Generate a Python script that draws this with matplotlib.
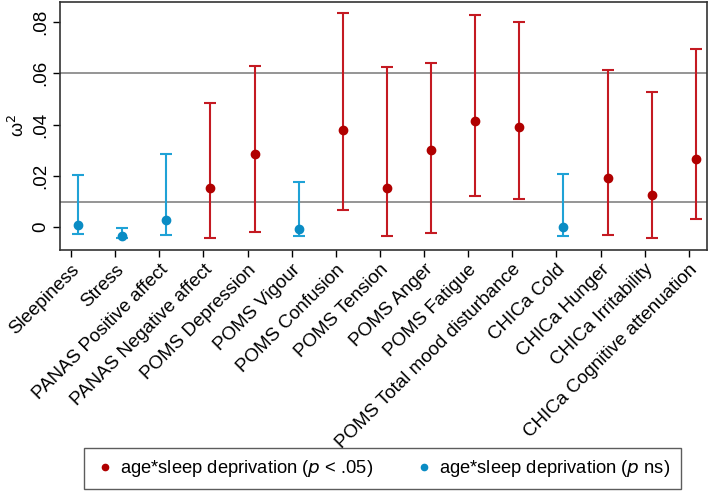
import matplotlib
matplotlib.use("Agg")
from matplotlib import pyplot as plt
from matplotlib.lines import Line2D
import numpy as np

# values (omega squared with CI)
labels = ["Sleepiness", "Stress", "PANAS Positive affect", "PANAS Negative affect",
          "POMS Depression", "POMS Vigour", "POMS Confusion", "POMS Tension",
          "POMS Anger", "POMS Fatigue", "POMS Total mood disturbance", "CHICa Cold",
          "CHICa Hunger", "CHICa Irritability", "CHICa Cognitive attenuation"]
omega = [0.0007, -0.0036, 0.0027, 0.0153, 0.0284, -0.0008, 0.0380, 0.0151,
         0.0300, 0.0412, 0.0389, 0.0000, 0.0190, 0.0126, 0.0267]
lower = [-0.0026, -0.0044, -0.0030, -0.0042, -0.0020, -0.0033, 0.0068, -0.0033,
         -0.0023, 0.0122, 0.0108, -0.0033, -0.0030, -0.0041, 0.0033]
upper = [0.0202, -0.0005, 0.0284, 0.0484, 0.0629, 0.0176, 0.0836, 0.0625,
         0.0640, 0.0827, 0.0799, 0.0207, 0.0611, 0.0527, 0.0696]
significant = [False, False, False, True, True, False, True, True,
               True, True, True, False, True, True, True]
ref_lines = [0.01, 0.06]

red_bar, red_pt = "#c41a22", "#b00000"
blue_bar, blue_pt = "#1fa2d6", "#0a8cc4"

plt.rcParams['font.family'] = ['Liberation Sans', 'DejaVu Sans']

fig = plt.figure(figsize=(7.09, 4.96), dpi=100)
ax = fig.add_axes([0.0846, 0.496, 0.9124, 0.5])

x = np.arange(1, len(labels) + 1)
omega = np.array(omega)
lower = np.array(lower)
upper = np.array(upper)

for yv in ref_lines:
    ax.axhline(yv, color="#8c8c8c", lw=1.3, zorder=1)

for sig, bc, pc in [(True, red_bar, red_pt), (False, blue_bar, blue_pt)]:
    m = np.array(significant) == sig
    ax.errorbar(x[m], omega[m], yerr=[omega[m] - lower[m], upper[m] - omega[m]],
                fmt="none", ecolor=bc, elinewidth=1.5, capsize=4, capthick=1.5, zorder=2)
    ax.plot(x[m], omega[m], "o", color=pc, ms=6, zorder=3)

ax.set_xlim(0.59, 15.25)
ax.set_ylim(-0.0089, 0.0878)
ax.set_yticks([0, 0.02, 0.04, 0.06, 0.08])
ax.set_yticklabels(["0", ".02", ".04", ".06", ".08"], rotation=90, va="center", fontsize=13.5)
ax.set_ylabel("ω$^2$", fontsize=13, labelpad=3)

# ticks sit a bit left of the points, like the original
ax.set_xticks(x - 0.16)
ax.set_xticklabels(labels, rotation=45, ha="right", rotation_mode="anchor", fontsize=13.5)
ax.tick_params(axis="both", direction="out", length=5, width=1, colors="black", pad=3)
for s in ax.spines.values():
    s.set_linewidth(1.2)
    s.set_color("#333333")

handles = [Line2D([], [], ls="none", marker="o", ms=4.5, color=red_pt),
           Line2D([], [], ls="none", marker="o", ms=4.5, color=blue_pt)]
names = ["age*sleep deprivation ($p$ < .05)", "age*sleep deprivation ($p$ ns)"]
leg = fig.legend(handles, names, loc="center", bbox_to_anchor=(0.5395, 0.0554), ncol=2,
                 fontsize=13.2, frameon=True, fancybox=False, edgecolor="#333333",
                 handletextpad=0.3, columnspacing=2.2, borderpad=0.55, handlelength=1.1)
leg.get_frame().set_linewidth(1.0)

fig.savefig("out.png", dpi=100)
